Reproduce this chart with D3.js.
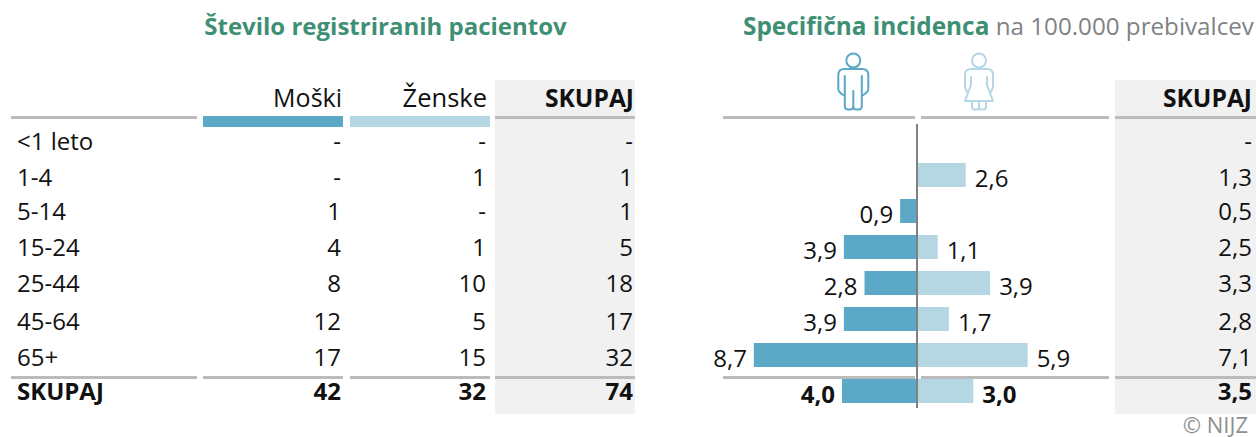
<!DOCTYPE html>
<html><head><meta charset="utf-8">
<script src="https://cdn.jsdelivr.net/npm/d3@7/dist/d3.min.js"></script>
<style>html,body{margin:0;padding:0;background:#fff}svg{display:block}text{font-family:"Open Sans",sans-serif;font-size:24px;fill:#111}</style>
</head><body><div id="c"></div>
<script>
const ageGroups=["<1 leto","1-4","5-14","15-24","25-44","45-64","65+","SKUPAJ"];
const countMen=["-","-","1","4","8","12","17","42"];
const countWomen=["-","1","-","1","10","5","15","32"];
const countTotal=["-","1","1","5","18","17","32","74"];
const rateMen=[null,null,0.9,3.9,2.8,3.9,8.7,4.0];
const rateWomen=[null,2.6,null,1.1,3.9,1.7,5.9,3.0];
const rateTotal=["-","1,3","0,5","2,5","3,3","2,8","7,1","3,5"];
const headers=["Moški","Ženske","SKUPAJ"];
const MEN="#5ba8c7",WOMEN="#b4d7e3",RULE="#bbbbbb",PANEL="#f1f1f1",GREEN="#3f8f75",GREY="#808285";
const W=1256,H=437;
const svg=d3.select("#c").append("svg").attr("width",W).attr("height",H);
const y=d3.scaleBand().domain(d3.range(ageGroups.length)).range([121,409]);
const x=d3.scaleLinear().domain([0,1]).range([917,935.75]);
const fmt=v=>v.toFixed(1).replace(".",",");
const bold=i=>i===ageGroups.length-1?700:400;
const barY=i=>y(i)+y.bandwidth()/2-12;
// table row baselines sit slightly off the bar grid in the source layout
const rowNudge=[0,0,-2,-2,-2,0,0,-2];
const rowY=i=>barY(i)+23+rowNudge[i];

svg.append("rect").attr("x",495).attr("y",80).attr("width",140).attr("height",334).attr("fill",PANEL);
svg.append("rect").attr("x",1115).attr("y",80).attr("width",141).attr("height",334).attr("fill",PANEL);

svg.append("text").attr("x",385.5).attr("y",34.5).attr("text-anchor","middle").style("font-weight",700).style("fill",GREEN).text("Število registriranih pacientov");
const t2=svg.append("text").attr("x",743).attr("y",34.5);
t2.append("tspan").style("font-weight",700).style("fill",GREEN).style("font-size","24.4px").text("Specifična incidenca");
t2.append("tspan").style("fill",GREY).style("font-size","24.2px").text(" na 100.000 prebivalcev");

[[11,197],[203,343],[350,490],[495,635],[723,915],[921,1109],[1115,1256]].forEach(([a,b])=>{
  svg.append("rect").attr("x",a).attr("y",116).attr("width",b-a).attr("height",3).attr("fill",RULE);
  svg.append("rect").attr("x",a).attr("y",376).attr("width",b-a).attr("height",3).attr("fill",RULE);
});
svg.append("rect").attr("x",203).attr("y",116).attr("width",140).attr("height",11).attr("fill",MEN);
svg.append("rect").attr("x",350).attr("y",116).attr("width",140).attr("height",11).attr("fill",WOMEN);

[[342,headers[0],400,25],[487,headers[1],400,25.5],[634,headers[2],700,24.6],[1252,headers[2],700,24.6]].forEach(([px,s,w,fs])=>{
  svg.append("text").attr("x",px).attr("y",107).attr("text-anchor","end").style("font-weight",w).style("font-size",fs+"px").text(s);
});

svg.selectAll("text.age").data(ageGroups).join("text").attr("class","age")
  .attr("x",17).attr("y",(d,i)=>rowY(i)).style("font-weight",(d,i)=>bold(i)).text(d=>d);
[[countMen,341],[countWomen,486],[countTotal,633],[rateTotal,1252]].forEach(([arr,px])=>{
  svg.append("g").selectAll("text").data(arr).join("text")
    .attr("x",px).attr("y",(d,i)=>rowY(i)).attr("text-anchor","end").style("font-weight",(d,i)=>bold(i)).text(d=>d);
});

const men=rateMen.map((v,i)=>({v,i})).filter(d=>d.v!=null);
const women=rateWomen.map((v,i)=>({v,i})).filter(d=>d.v!=null);
svg.append("g").selectAll("rect").data(men).join("rect")
  .attr("x",d=>x(-d.v)).attr("y",d=>barY(d.i)).attr("width",d=>x(0)-x(-d.v)).attr("height",24).attr("fill",MEN);
svg.append("g").selectAll("rect").data(women).join("rect")
  .attr("x",x(0)).attr("y",d=>barY(d.i)).attr("width",d=>x(d.v)-x(0)).attr("height",24).attr("fill",WOMEN);
svg.append("g").selectAll("text").data(men).join("text")
  .attr("x",d=>x(-d.v)-7).attr("y",d=>barY(d.i)+24).attr("text-anchor","end").style("font-weight",d=>bold(d.i)).text(d=>fmt(d.v));
svg.append("g").selectAll("text").data(women).join("text")
  .attr("x",d=>x(d.v)+9).attr("y",d=>barY(d.i)+24).style("font-weight",d=>bold(d.i)).text(d=>fmt(d.v));
svg.append("line").attr("x1",x(0)).attr("x2",x(0)).attr("y1",124).attr("y2",408).attr("stroke","#808080").attr("stroke-width",2);

svg.append("text").attr("x",1248).attr("y",433).attr("text-anchor","end").style("font-size","22px").style("fill","#8f8f8f").text("© NIJZ");

const man=svg.append("g").attr("transform","translate(853.3,0)").attr("fill","none").attr("stroke",MEN).attr("stroke-width",2).attr("stroke-linejoin","round").attr("stroke-linecap","round");
man.append("circle").attr("cy",60.5).attr("r",7);
man.append("path").attr("d","M-9,69 H9 Q15,69 15,75 V89 Q15,92 10,95 M-9,69 Q-15,69 -15,75 V89 Q-15,92 -10,95 M-8.5,76 V106 Q-8.5,109.5 -5,109.5 H-3 Q0,109.5 0,106 V91 M8.5,76 V106 Q8.5,109.5 5,109.5 H3 Q0,109.5 0,106");
const wom=svg.append("g").attr("transform","translate(979,0)").attr("fill","none").attr("stroke",WOMEN).attr("stroke-width",2).attr("stroke-linejoin","round").attr("stroke-linecap","round");
wom.append("circle").attr("cy",60.5).attr("r",7);
wom.append("path").attr("d","M-8,69 H8 Q14,69 14,75 V87 L12,92 M-8,69 Q-14,69 -14,75 V87 L-12,92 M-8,77 V85 L-14,101 H14 L8,85 V77 M-7,101 V107 Q-7,109.5 -4,109.5 H-2 Q0,109.5 0,107 V101 M7,101 V107 Q7,109.5 4,109.5 H2 Q0,109.5 0,107");
</script></body></html>
